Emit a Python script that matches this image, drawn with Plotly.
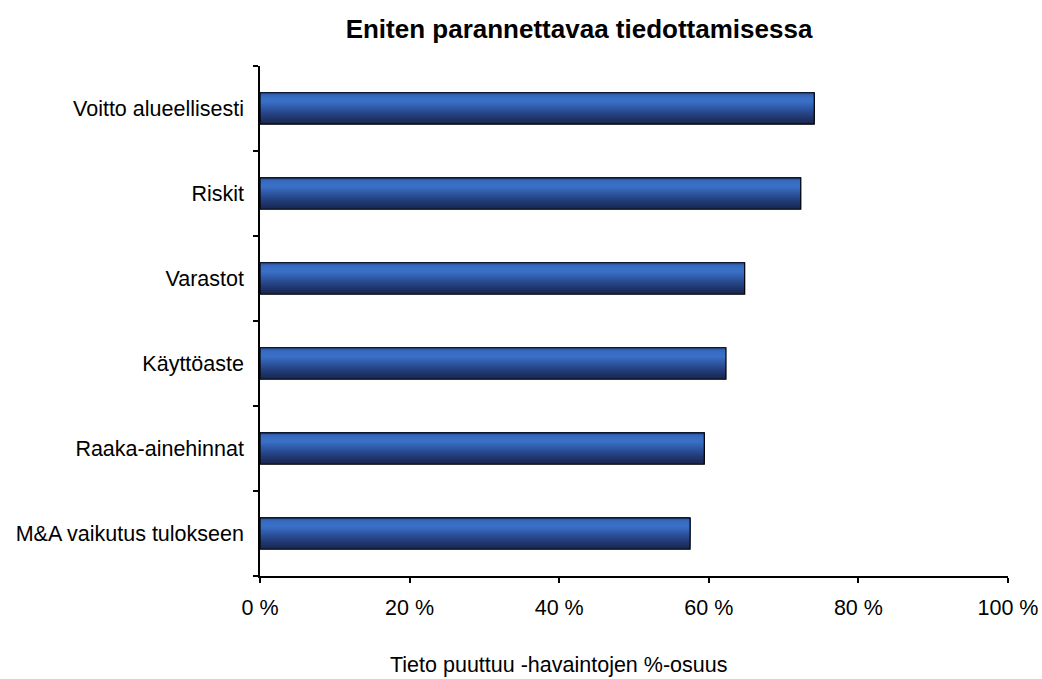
import plotly.graph_objects as go

# Data (listed top to bottom as shown)
categories = [
    "Voitto alueellisesti",
    "Riskit",
    "Varastot",
    "Käyttöaste",
    "Raaka-ainehinnat",
    "M&A vaikutus tulokseen",
]
values = [74.1, 72.3, 64.8, 62.3, 59.4, 57.5]

x_tickvals = [0, 20, 40, 60, 80, 100]
x_ticktext = ["0 %", "20 %", "40 %", "60 %", "80 %", "100 %"]

title_text = "Eniten parannettavaa tiedottamisessa"
x_title_text = "Tieto puuttuu -havaintojen %-osuus"

# Bottom-to-top order for the category axis
cats_up = categories[::-1]
vals_up = values[::-1]

BAR_W = 0.37
N_BANDS = 16

# Vertical shading of the bars: (fraction from bottom, rgb)
stops = [
    (0.00, (24, 38, 76)),
    (0.35, (38, 68, 135)),
    (0.72, (58, 113, 200)),
    (0.88, (56, 108, 193)),
    (1.00, (44, 88, 165)),
]


def shade(t):
    for (t0, c0), (t1, c1) in zip(stops[:-1], stops[1:]):
        if t0 <= t <= t1:
            f = (t - t0) / (t1 - t0) if t1 > t0 else 0
            return "rgb(%d,%d,%d)" % tuple(round(a + (b - a) * f) for a, b in zip(c0, c1))
    return "rgb(%d,%d,%d)" % stops[-1][1]


fig = go.Figure()

# Each band starts higher and runs to the top of the bar, so later bands cover earlier ones
for i in range(N_BANDS):
    start = -BAR_W / 2 + i * BAR_W / N_BANDS
    fig.add_trace(go.Bar(
        y=cats_up, x=vals_up, orientation="h",
        offset=start, width=BAR_W / 2 - start,
        marker=dict(color=shade((i + 0.5) / N_BANDS), line=dict(width=0)),
        showlegend=False, hoverinfo="skip",
    ))

# Black outline on top
fig.add_trace(go.Bar(
    y=cats_up, x=vals_up, orientation="h",
    offset=-BAR_W / 2, width=BAR_W,
    marker=dict(color="rgba(0,0,0,0)", line=dict(color="#000000", width=1.2)),
    showlegend=False,
    hovertemplate="%{y}: %{x:.1f} %<extra></extra>",
))

FAMILY = "Liberation Sans, Arial, sans-serif"
base_font = dict(family=FAMILY, size=21.5, color="#000000")

fig.update_layout(
    width=1042, height=679,
    margin=dict(l=260, r=34, t=66, b=103),
    paper_bgcolor="white", plot_bgcolor="white",
    barmode="overlay",
    font=base_font,
    title=dict(
        text="<b>" + title_text + "</b>",
        x=579 / 1042, xanchor="center", xref="container",
        y=1 - 29 / 679, yanchor="middle", yref="container",
        font=dict(family=FAMILY, size=26, color="#000000"),
    ),
    xaxis=dict(
        range=[0, 100], tickvals=x_tickvals, ticktext=x_ticktext,
        showgrid=False, zeroline=False, automargin=False,
        showline=True, linecolor="#000000", linewidth=1.5,
        ticks="outside", ticklen=5, tickcolor="#000000", tickwidth=1.5,
        tickfont=base_font, ticklabelstandoff=6,
    ),
    yaxis=dict(
        type="category", categoryorder="array", categoryarray=cats_up,
        range=[-0.5, len(cats_up) - 0.5],
        showgrid=False, zeroline=False, automargin=False,
        showline=True, linecolor="#000000", linewidth=1.5,
        ticks="outside", ticklen=5, tickcolor="#000000", tickwidth=1.5,
        tickson="boundaries",
        tickfont=base_font, ticklabelstandoff=10,
    ),
    annotations=[
        # x-axis caption, set a little left of the axis centre
        dict(
            text=x_title_text, showarrow=False,
            xref="paper", yref="paper",
            x=(558 - 260) / 748, y=(576 - 665) / 510,
            xanchor="center", yanchor="middle",
            font=dict(family=FAMILY, size=21.5, color="#000000"),
        )
    ],
)

fig.write_html("out.html")
